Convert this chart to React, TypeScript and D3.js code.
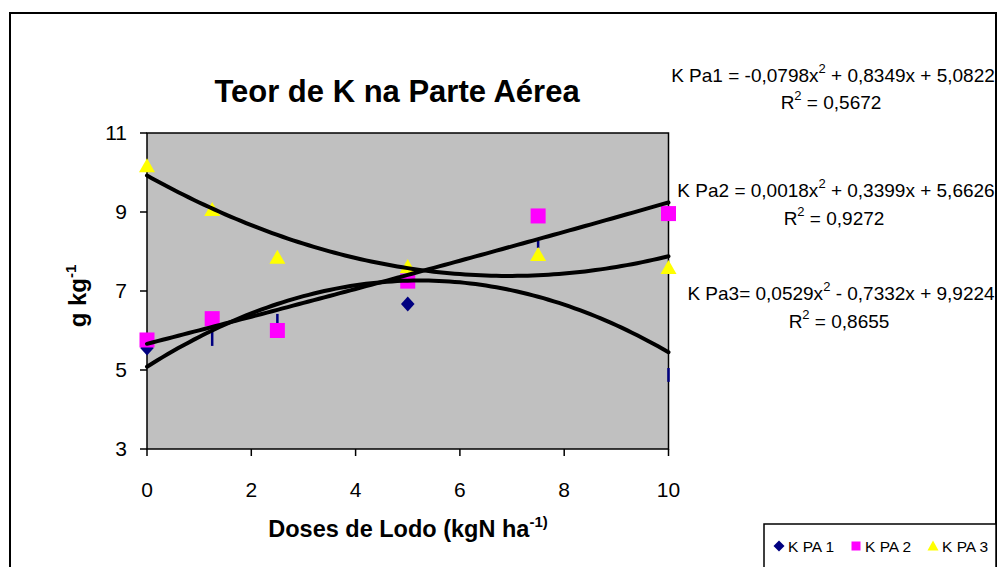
import React, { useEffect, useRef } from 'react';
import * as d3 from 'd3';

// doses (kgN/ha)
const doses = [0, 1.25, 2.5, 5, 7.5, 10];
const kpa1 = [5.56, null, null, 6.67, null, null];
const kpa2 = [5.76, 6.3, 6.0, 7.25, 8.9, 8.96];
const kpa3 = [10.16, 9.05, 7.84, 7.61, 7.91, 7.58];
// small navy bars of K PA 1 where the diamond is hidden: [dose, low, high]
const kpa1Bars: [number, number, number][] = [
  [1.25, 5.61, 6.11],
  [2.5, 6.19, 6.42],
  [7.5, 8.09, 8.27],
  [10, 4.7, 5.05],
];

// trend line coefficients: a*x^2 + b*x + c
const trendCoefs = [
  [-0.0798, 0.8349, 5.0822],
  [0.0018, 0.3399, 5.6626],
  [0.0529, -0.7332, 9.9224],
];
const eqParts = [
  ['K Pa1 = -0,0798x', '2', ' + 0,8349x + 5,0822'],
  ['K Pa2 = 0,0018x', '2', ' + 0,3399x + 5,6626'],
  ['K Pa3= 0,0529x', '2', ' - 0,7332x + 9,9224'],
];
const r2Values = ['0,5672', '0,9272', '0,8655'];

const yTicks = [3, 5, 7, 9, 11];
const xTicks = [0, 2, 4, 6, 8, 10];
const legendNames = ['K PA 1', 'K PA 2', 'K PA 3'];

const FONT = '"Liberation Sans", Arial, sans-serif';

export default function App() {
  const svgRef = useRef<SVGSVGElement>(null);

  useEffect(() => {
    if (!svgRef.current) return;
    const width = 998;
    const height = 567;
    const svg = d3.select(svgRef.current);
    svg.selectAll('*').remove();
    svg.attr('width', width).attr('height', height);

    svg.append('rect').attr('width', width).attr('height', height).attr('fill', 'white');

    // outer chart border
    svg.append('rect')
      .attr('x', 10).attr('y', 13).attr('width', 986).attr('height', 580)
      .attr('fill', 'none').attr('stroke', 'black').attr('stroke-width', 2);

    const x = d3.scaleLinear().domain([0, 10]).range([147, 668.5]);
    const y = d3.scaleLinear().domain([3, 11]).range([449, 133]);

    // plot area
    svg.append('rect')
      .attr('x', x(0)).attr('y', y(11))
      .attr('width', x(10) - x(0)).attr('height', y(3) - y(11))
      .attr('fill', '#C0C0C0').attr('stroke', 'black').attr('stroke-width', 1.5);

    // y axis
    const yAxis = svg.append('g');
    yAxis.selectAll('line').data(yTicks).enter().append('line')
      .attr('x1', x(0) - 7).attr('x2', x(0))
      .attr('y1', d => y(d)).attr('y2', d => y(d))
      .attr('stroke', 'black').attr('stroke-width', 1.5);
    yAxis.selectAll('text').data(yTicks).enter().append('text')
      .attr('x', 127).attr('y', d => y(d)).attr('dy', '0.35em')
      .attr('text-anchor', 'end').attr('font-family', FONT).attr('font-size', 21)
      .text(d => d);

    // x axis
    const xAxis = svg.append('g');
    xAxis.selectAll('line').data(xTicks).enter().append('line')
      .attr('x1', d => x(d)).attr('x2', d => x(d))
      .attr('y1', y(3)).attr('y2', y(3) + 7)
      .attr('stroke', 'black').attr('stroke-width', 1.5);
    xAxis.selectAll('text').data(xTicks).enter().append('text')
      .attr('x', d => x(d)).attr('y', 497)
      .attr('text-anchor', 'middle').attr('font-family', FONT).attr('font-size', 21)
      .text(d => d);

    // axis titles
    const xt = svg.append('text')
      .attr('x', 408).attr('y', 537).attr('text-anchor', 'middle')
      .attr('font-family', FONT).attr('font-size', 23.5).attr('font-weight', 'bold');
    xt.append('tspan').text('Doses de Lodo (kgN ha');
    xt.append('tspan').attr('dy', -10).attr('font-size', 15).text('-1)');

    const yt = svg.append('text')
      .attr('transform', 'translate(86,296) rotate(-90)').attr('text-anchor', 'middle')
      .attr('font-family', FONT).attr('font-size', 24).attr('font-weight', 'bold');
    yt.append('tspan').text('g kg');
    yt.append('tspan').attr('dy', -10).attr('font-size', 15).text('-1');

    // title
    svg.append('text')
      .attr('x', 397).attr('y', 102).attr('text-anchor', 'middle')
      .attr('font-family', FONT).attr('font-size', 31).attr('font-weight', 'bold')
      .text('Teor de K na Parte Aérea');

    // markers
    const navy = '#000080';
    const pink = '#FF00FF';
    const yellow = '#FFFF00';

    const s1 = svg.append('g');
    s1.selectAll('line').data(kpa1Bars).enter().append('line')
      .attr('x1', d => x(d[0])).attr('x2', d => x(d[0]))
      .attr('y1', d => y(d[1])).attr('y2', d => y(d[2]))
      .attr('stroke', navy).attr('stroke-width', 2.5);
    s1.selectAll('path').data(doses.map((d, i) => [d, kpa1[i]]).filter(p => p[1] != null))
      .enter().append('path')
      .attr('d', 'M0,-7.5 L6.8,0 L0,7.5 L-6.8,0 Z')
      .attr('transform', d => `translate(${x(d[0] as number)},${y(d[1] as number)})`)
      .attr('fill', navy);

    svg.append('g').selectAll('rect').data(doses.map((d, i) => [d, kpa2[i]]))
      .enter().append('rect')
      .attr('x', d => x(d[0]) - 7.5).attr('y', d => y(d[1]) - 7.5)
      .attr('width', 15).attr('height', 15).attr('fill', pink);

    svg.append('g').selectAll('path').data(doses.map((d, i) => [d, kpa3[i]]))
      .enter().append('path')
      .attr('d', 'M0,-8 L8,6 L-8,6 Z')
      .attr('transform', d => `translate(${x(d[0])},${y(d[1])})`)
      .attr('fill', yellow);

    // polynomial trend lines
    const xs = d3.range(0, 10.001, 0.1);
    trendCoefs.forEach(([a, b, c]) => {
      svg.append('path')
        .attr('d', d3.line<number>().x(v => x(v)).y(v => y(a * v * v + b * v + c))(xs) as string)
        .attr('fill', 'none').attr('stroke', 'black').attr('stroke-width', 4)
        .attr('stroke-linejoin', 'round').attr('stroke-linecap', 'round');
    });

    // equations
    const eqPos = [
      { cx: 833, y1: 82, y2: 109 },
      { cx: 836, y1: 197, y2: 225 },
      { cx: 841, y1: 300, y2: 328 },
    ];
    eqParts.forEach((parts, i) => {
      const p = eqPos[i];
      const t = svg.append('text')
        .attr('x', p.cx).attr('y', p.y1).attr('text-anchor', 'middle')
        .attr('font-family', FONT).attr('font-size', 19);
      t.append('tspan').text(parts[0]);
      t.append('tspan').attr('dy', -9).attr('font-size', 13).text(parts[1]);
      t.append('tspan').attr('dy', 9).text(parts[2]);
      const r = svg.append('text')
        .attr('x', p.cx - 2).attr('y', p.y2).attr('text-anchor', 'middle')
        .attr('font-family', FONT).attr('font-size', 19);
      r.append('tspan').text('R');
      r.append('tspan').attr('dy', -9).attr('font-size', 13).text('2');
      r.append('tspan').attr('dy', 9).text(' = ' + r2Values[i]);
    });

    // legend
    const lg = svg.append('g');
    lg.append('rect')
      .attr('x', 764).attr('y', 524).attr('width', 232).attr('height', 60)
      .attr('fill', 'white').attr('stroke', 'black').attr('stroke-width', 1.5);
    const legX = [779, 856, 933];
    legendNames.forEach((name, i) => {
      const cx = legX[i];
      const cy = 546;
      if (i === 0) {
        lg.append('path').attr('d', 'M0,-5.5 L5.5,0 L0,5.5 L-5.5,0 Z')
          .attr('transform', `translate(${cx},${cy})`).attr('fill', navy);
      } else if (i === 1) {
        lg.append('rect').attr('x', cx - 4.5).attr('y', cy - 4.5)
          .attr('width', 9).attr('height', 9).attr('fill', pink);
      } else {
        lg.append('path').attr('d', 'M0,-5.5 L5.5,4.5 L-5.5,4.5 Z')
          .attr('transform', `translate(${cx},${cy})`).attr('fill', yellow);
      }
      lg.append('text')
        .attr('x', cx + 9).attr('y', cy + 6)
        .attr('font-family', FONT).attr('font-size', 15.5)
        .text(name);
    });
  }, []);

  return (
    <svg ref={svgRef} style={{ position: 'absolute', left: 0, top: 0, display: 'block' }} />
  );
}
